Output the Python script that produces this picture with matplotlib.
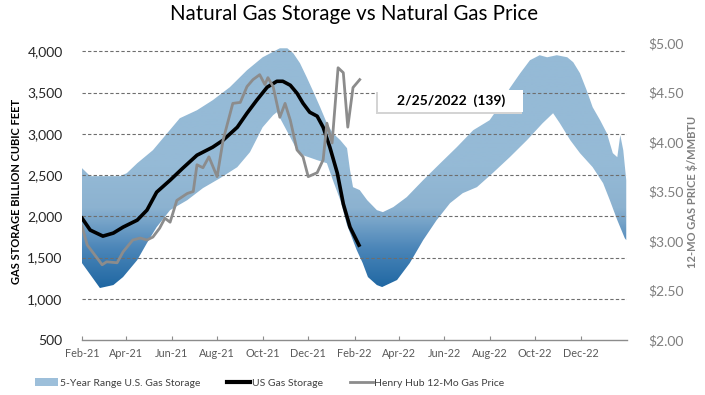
import matplotlib
matplotlib.use("Agg")
import matplotlib.pyplot as plt
import matplotlib.dates as mdates
import numpy as np
import pandas as pd
from matplotlib.colors import LinearSegmentedColormap, Normalize
from matplotlib.lines import Line2D
from matplotlib.patches import Patch, Rectangle

# 5-year range of U.S. gas storage (Bcf), upper and lower edge
range_hi_dates = ["2021-02-01", "2021-02-12", "2021-03-24", "2021-04-02", "2021-04-16",
                  "2021-05-07", "2021-06-12", "2021-07-05", "2021-07-26", "2021-08-18",
                  "2021-09-10", "2021-10-01", "2021-10-24", "2021-11-03", "2021-11-11",
                  "2021-11-20", "2021-11-29", "2021-12-07", "2021-12-17", "2021-12-26",
                  "2022-01-03", "2022-01-13", "2022-01-22", "2022-01-26", "2022-01-30",
                  "2022-02-08", "2022-02-18", "2022-03-03", "2022-03-11", "2022-03-25",
                  "2022-04-12", "2022-05-04", "2022-05-27", "2022-06-18", "2022-07-10",
                  "2022-08-01", "2022-08-15", "2022-08-28", "2022-09-11", "2022-09-24",
                  "2022-10-07", "2022-10-17", "2022-10-30", "2022-11-13", "2022-11-21",
                  "2022-11-30", "2022-12-09", "2022-12-17", "2022-12-27", "2023-01-05",
                  "2023-01-13", "2023-01-19", "2023-01-23", "2023-01-27", "2023-01-31"]
range_hi = [2583, 2486, 2486, 2522, 2643,
            2801, 3188, 3285, 3406, 3564,
            3770, 3927, 4036, 4036, 3976,
            3855, 3685, 3527, 3322, 3128,
            3007, 2922, 2825, 2559, 2353,
            2317, 2195, 2074, 2050, 2111,
            2232, 2438, 2643, 2837, 3043,
            3164, 3346, 3552, 3734, 3891,
            3952, 3927, 3952, 3927, 3867,
            3734, 3527, 3322, 3164, 3007,
            2765, 2716, 2983, 2801, 2438]

range_lo_dates = ["2021-02-01", "2021-02-25", "2021-03-15", "2021-03-28", "2021-04-16",
                  "2021-04-29", "2021-05-12", "2021-05-30", "2021-06-22", "2021-07-13",
                  "2021-08-05", "2021-08-28", "2021-09-14", "2021-10-01", "2021-10-15",
                  "2021-10-20", "2021-11-07", "2021-11-16", "2021-11-24", "2021-12-13",
                  "2021-12-26", "2022-01-03", "2022-01-13", "2022-01-22", "2022-02-04",
                  "2022-02-12", "2022-02-19", "2022-03-03", "2022-03-10", "2022-03-30",
                  "2022-04-16", "2022-05-04", "2022-05-22", "2022-06-09", "2022-06-26",
                  "2022-07-15", "2022-08-05", "2022-08-28", "2022-09-20", "2022-10-11",
                  "2022-10-25", "2022-11-03", "2022-11-17", "2022-11-30", "2022-12-17",
                  "2022-12-31", "2023-01-09", "2023-01-19", "2023-01-29", "2023-01-31"]
range_lo = [1432, 1130, 1166, 1263, 1469,
            1675, 1868, 2074, 2195, 2341,
            2462, 2595, 2777, 3079, 3225,
            3261, 2958, 2801, 2740, 2680,
            2643, 2438, 2195, 1893, 1590,
            1432, 1263, 1166, 1142, 1227,
            1432, 1711, 1953, 2159, 2280,
            2353, 2522, 2716, 2922, 3128,
            3249, 3128, 2922, 2765, 2595,
            2401, 2195, 1953, 1735, 1711]

# US gas storage (Bcf)
storage_dates = ["2021-02-01", "2021-02-12", "2021-03-01", "2021-03-15", "2021-03-28",
                 "2021-04-16", "2021-04-29", "2021-05-12", "2021-05-30", "2021-06-16",
                 "2021-07-05", "2021-07-26", "2021-08-09", "2021-08-28", "2021-09-10",
                 "2021-09-23", "2021-10-07", "2021-10-20", "2021-10-28", "2021-11-07",
                 "2021-11-16", "2021-11-24", "2021-12-03", "2021-12-13", "2021-12-21",
                 "2021-12-30", "2022-01-09", "2022-01-17", "2022-01-26", "2022-02-07"]
storage = [1977, 1832, 1759, 1796, 1868,
           1953, 2074, 2292, 2437, 2583,
           2740, 2837, 2922, 3079, 3249,
           3406, 3564, 3636, 3636, 3588,
           3491, 3370, 3261, 3213, 3079,
           2837, 2522, 2150, 1868, 1650]

# Henry Hub 12-month strip price ($/MMBtu)
price_dates = ["2021-02-01", "2021-02-08", "2021-02-16", "2021-02-28", "2021-03-06",
               "2021-03-20", "2021-03-28", "2021-04-10", "2021-04-20", "2021-04-29",
               "2021-05-07", "2021-05-16", "2021-05-23", "2021-05-30", "2021-06-08",
               "2021-06-22", "2021-06-30", "2021-07-05", "2021-07-13", "2021-07-21",
               "2021-08-01", "2021-08-09", "2021-08-22", "2021-09-01", "2021-09-10",
               "2021-09-18", "2021-09-27", "2021-10-04", "2021-10-08", "2021-10-15",
               "2021-10-24", "2021-10-31", "2021-11-07", "2021-11-16", "2021-11-24",
               "2021-12-01", "2021-12-13", "2021-12-21", "2021-12-26", "2022-01-02",
               "2022-01-10", "2022-01-17", "2022-01-23", "2022-01-30", "2022-02-08"]
price = [3.15, 2.96, 2.88, 2.76, 2.79,
         2.78, 2.89, 3.01, 3.03, 3.01,
         3.04, 3.13, 3.23, 3.19, 3.41,
         3.48, 3.50, 3.77, 3.74, 3.85,
         3.65, 4.02, 4.39, 4.40, 4.56,
         4.63, 4.68, 4.58, 4.65, 4.56,
         4.25, 4.39, 4.22, 3.92, 3.85,
         3.65, 3.69, 3.82, 4.19, 3.99,
         4.75, 4.70, 4.15, 4.55, 4.63]

storage_ticks = [500, 1000, 1500, 2000, 2500, 3000, 3500, 4000]
price_ticks = [2.0, 2.5, 3.0, 3.5, 4.0, 4.5, 5.0]
month_ticks = pd.date_range("2021-02-01", "2022-12-01", freq="2MS")
note_text = "2/25/2022  (139)"

plt.rcParams['font.family'] = ['Lato', 'DejaVu Sans']

fig = plt.figure(figsize=(7.05, 3.95), dpi=100)
ax = fig.add_axes([82 / 705, 55 / 395, 545 / 705, 297 / 395])

x_min = mdates.date2num(pd.Timestamp("2021-02-01"))
x_max = mdates.date2num(pd.Timestamp("2023-02-01"))

# band polygon, filled with a vertical gradient
hi_x = mdates.date2num(pd.to_datetime(range_hi_dates))
lo_x = mdates.date2num(pd.to_datetime(range_lo_dates))
poly = ax.fill(np.concatenate([hi_x, lo_x[::-1]]),
               np.concatenate([range_hi, range_lo[::-1]]),
               facecolor='none', edgecolor='none')[0]
band_cmap = LinearSegmentedColormap.from_list(
    'band', ['#1c65a1', '#4a85b8', '#8cb2d0', '#95bad6'])
levels = np.linspace(500, 4100, 300).reshape(-1, 1)
img = ax.imshow(levels, extent=[x_min, x_max, 500, 4100], origin='lower',
                aspect='auto', cmap=band_cmap,
                norm=Normalize(vmin=1100, vmax=2600), zorder=1)
img.set_clip_path(poly)

# dashed grid on top of the band
for v in storage_ticks[1:]:
    ax.axhline(v, linestyle=(0, (3, 2)), color='#6e6e6e', lw=0.8, zorder=2)

ax.plot(pd.to_datetime(storage_dates), storage, color='black', lw=2.6,
        zorder=3, solid_joinstyle='round')

ax.set_xlim(x_min, x_max)
ax.set_ylim(500, 4100)
ax.set_yticks(storage_ticks)
ax.set_yticklabels([f"{v:,}" for v in storage_ticks])

ax.set_xticks(mdates.date2num(month_ticks))
ax.xaxis.set_major_formatter(mdates.DateFormatter('%b-%y'))

for side in ['top', 'left', 'right']:
    ax.spines[side].set_visible(False)
ax.spines['bottom'].set_color('#8c8c8c')
ax.spines['bottom'].set_linewidth(1.0)
ax.tick_params(axis='y', length=0, pad=14, labelsize=10, labelcolor='#262626')
ax.tick_params(axis='x', direction='in', length=3, color='#8c8c8c', pad=6,
               labelsize=7.8, labelcolor='#595959')

ax.set_ylabel('GAS STORAGE BILLION CUBIC FEET', fontsize=8, fontweight='bold',
              color='black', labelpad=4)

# price on the right axis
ax2 = ax.twinx()
ax2.plot(pd.to_datetime(price_dates), price, color='#8c8c8c', lw=2.0,
         solid_joinstyle='round')
ax2.set_ylim(2, 5)
ax2.set_yticks(price_ticks)
ax2.set_yticklabels([f"${v:.2f}" for v in price_ticks])
for side in ['top', 'left', 'right', 'bottom']:
    ax2.spines[side].set_visible(False)
ax2.tick_params(axis='y', length=0, pad=15, labelsize=10, labelcolor='#7f7f7f')
ax2.set_ylabel('12-MO GAS PRICE $/MMBTU', fontsize=8, fontweight='bold',
               color='#7f7f7f', labelpad=2)

# callout box with a soft shadow
fig.patches.append(Rectangle((376 / 705, 1 - 114 / 395), 146 / 705, 22 / 395,
                             transform=fig.transFigure, facecolor='#d4d4d4',
                             edgecolor='none', zorder=5))
fig.patches.append(Rectangle((378 / 705, 1 - 112 / 395), 145 / 705, 22 / 395,
                             transform=fig.transFigure, facecolor='white',
                             edgecolor='none', zorder=6))
fig.text(451 / 705, 1 - 101 / 395, note_text, ha='center', va='center',
         fontsize=10, fontweight='bold', color='black', zorder=7)

fig.text(0.502, 1 - 14 / 395, 'Natural Gas Storage vs Natural Gas Price',
         ha='center', va='center', fontsize=14.8, color='black')

handles = [Patch(facecolor='#9dbfda', edgecolor='none'),
           Line2D([], [], color='black', lw=3),
           Line2D([], [], color='#8c8c8c', lw=2)]
labels = ['5-Year Range U.S. Gas Storage', 'US Gas Storage',
          'Henry Hub 12-Mo Gas Price']
fig.legend(handles, labels, loc='center', bbox_to_anchor=(270 / 705, 1 - 383 / 395),
           ncol=3, frameon=False, fontsize=7.5, handlelength=2.2, handleheight=0.8,
           handletextpad=0.15, columnspacing=2.6, labelcolor='#404040')

fig.savefig('out.png', dpi=100)
